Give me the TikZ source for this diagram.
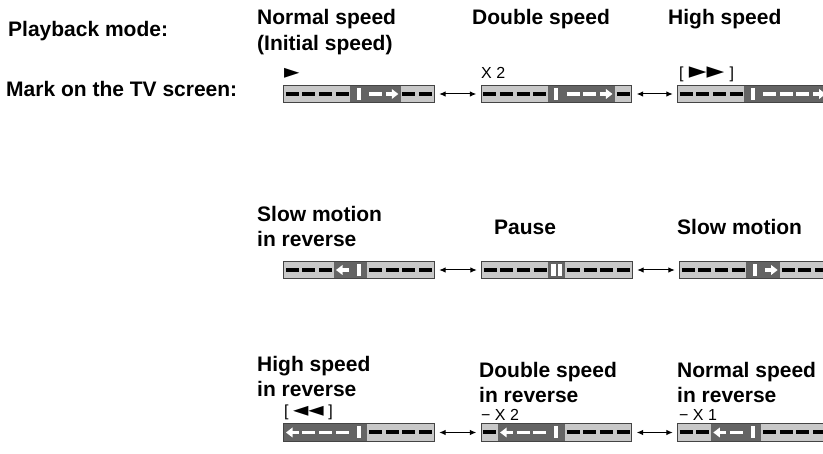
\documentclass[tikz,border=0pt]{standalone}
\usepackage{fontspec}
\setmainfont{Liberation Sans}
\newfontfamily\symfont{DejaVu Sans}
\usetikzlibrary{arrows.meta}

\definecolor{barlight}{HTML}{C8C8C8}
\definecolor{bardark}{HTML}{646464}
\definecolor{baredge}{HTML}{444444}

\newcommand{\cw}{16.667}
% one cell of a bar: k = black dash, w = white dash, b = position mark,
% p = pause mark, r / l = white arrow to the right / left
\newcommand{\tvcdark}[1]{\fill[bardark] ({#1*\cw-0.2},-8.5) rectangle ({(#1+1)*\cw+0.2},8.5);}
\newcommand{\tvck}[1]{\draw[dashk] ({#1*\cw+2},0) -- ({#1*\cw+15},0);}
\newcommand{\tvcw}[1]{\tvcdark{#1}\draw[dashw] ({#1*\cw+2},0) -- ({#1*\cw+15},0);}
\newcommand{\tvcb}[1]{\tvcdark{#1}\fill[white] ({#1*\cw+6.3},-6) rectangle ({#1*\cw+10.3},6);}
\newcommand{\tvcp}[1]{\tvcdark{#1}\fill[white] ({#1*\cw+3},-6) rectangle ({#1*\cw+7.5},6);
  \fill[white] ({#1*\cw+9.5},-6) rectangle ({#1*\cw+14},6);}
\newcommand{\tvcr}[1]{\tvcdark{#1}\draw[dashw] ({#1*\cw+2},0) -- ({#1*\cw+9},0);
  \fill[white] ({#1*\cw+8},-5) -- ({#1*\cw+14.5},0) -- ({#1*\cw+8},5) -- cycle;}
\newcommand{\tvcl}[1]{\tvcdark{#1}\draw[dashw] ({#1*\cw+15},0) -- ({#1*\cw+8},0);
  \fill[white] ({#1*\cw+8.7},-5) -- ({#1*\cw+2.2},0) -- ({#1*\cw+8.7},5) -- cycle;}
% bar: name, centre, nine cells
\newcommand{\tvbar}[3]{%
  \node[tvbar] at (#2) (#1) {};
  \begin{scope}[shift={(#1.west)}]
    \foreach \cellkind [count=\i from 0] in {#3} {\csname tvc\cellkind\endcsname{\i}}
  \end{scope}
  \draw[baredge,line width=0.8pt] (#1.south west) rectangle (#1.north east);}
\newcommand{\symtxt}[2][20]{{\symfont\fontsize{#1}{#1}\selectfont #2}}

\tikzset{
  tvbar/.style={rectangle,fill=barlight,minimum width=150pt,minimum height=17pt,inner sep=0pt},
  modetext/.style={anchor=base west,inner sep=0pt,font=\fontsize{21}{22}\selectfont\bfseries},
  marktext/.style={anchor=base west,inner sep=0pt,font=\fontsize{16}{18}\selectfont},
  dashk/.style={line width=4pt,black},
  dashw/.style={line width=3.5pt,white},
  modelink/.style={{Latex[length=6.5pt,width=5.5pt]}-{Latex[length=6.5pt,width=5.5pt]},line width=1pt,shorten <=5pt,shorten >=5pt}
}

\begin{document}
\begin{tikzpicture}[x=1pt,y=-1pt]
	\useasboundingbox (0,0) rectangle (823,454);

	%Headings
	\node[modetext] at (8,37) (play) {Playback mode:};
	\node[modetext] at (6,97) (markline) {Mark on the TV screen:};

	%Forward row
	\node[modetext] at (257,25) (normal) {Normal speed};
	\node[modetext] at (257,51) (normalb) {(Initial speed)};
	\node[modetext] at (472,25) (double) {Double speed};
	\node[modetext] at (668,25) (high) {High speed};
	\node[marktext] at (284,79) (symnormal) {\symtxt{►}};
	\node[marktext] at (481,79) (symdouble) {X 2};
	\node[marktext] at (679,79) (symhigh) {[\,\,\symtxt[23]{►►}\,\,]};
	\tvbar{barnormal}{359,94}{k,k,k,k,b,w,r,k,k}
	\tvbar{bardouble}{556.5,94}{k,k,k,k,b,w,w,r,k}
	\tvbar{barhigh}{753,94}{k,k,k,k,b,w,w,w,r}
	\draw[modelink] (barnormal.east) -- (bardouble.west);
	\draw[modelink] (bardouble.east) -- (barhigh.west);

	%Slow row
	\node[modetext] at (257,222) (slowrev) {Slow motion};
	\node[modetext] at (257,247) (slowrevb) {in reverse};
	\node[modetext] at (494,235) (pause) {Pause};
	\node[modetext] at (677,235) (slow) {Slow motion};
	\tvbar{barslowrev}{359,270}{k,k,k,l,b,k,k,k,k}
	\tvbar{barpause}{557,270}{k,k,k,k,p,k,k,k,k}
	\tvbar{barslow}{755,270}{k,k,k,k,b,r,k,k,k}
	\draw[modelink] (barslowrev.east) -- (barpause.west);
	\draw[modelink] (barpause.east) -- (barslow.west);

	%Reverse row
	\node[modetext] at (257,372) (highrev) {High speed};
	\node[modetext] at (257,397) (highrevb) {in reverse};
	\node[modetext] at (479,378) (doublerev) {Double speed};
	\node[modetext] at (479,403) (doublerevb) {in reverse};
	\node[modetext] at (677,378) (normalrev) {Normal speed};
	\node[modetext] at (677,403) (normalrevb) {in reverse};
	\node[marktext] at (284,417) (symhighrev) {[ \symtxt{◄◄} ]};
	\node[marktext] at (481,421) (symdoublerev) {− X 2};
	\node[marktext] at (679,421) (symnormalrev) {− X 1};
	\tvbar{barhighrev}{359,432.5}{l,w,w,w,b,k,k,k,k}
	\tvbar{bardoublerev}{556.5,432.5}{k,l,w,w,b,k,k,k,k}
	\tvbar{barnormalrev}{753,432.5}{k,k,l,w,b,k,k,k,k}
	\draw[modelink] (barhighrev.east) -- (bardoublerev.west);
	\draw[modelink] (bardoublerev.east) -- (barnormalrev.west);

\end{tikzpicture}
\end{document}
